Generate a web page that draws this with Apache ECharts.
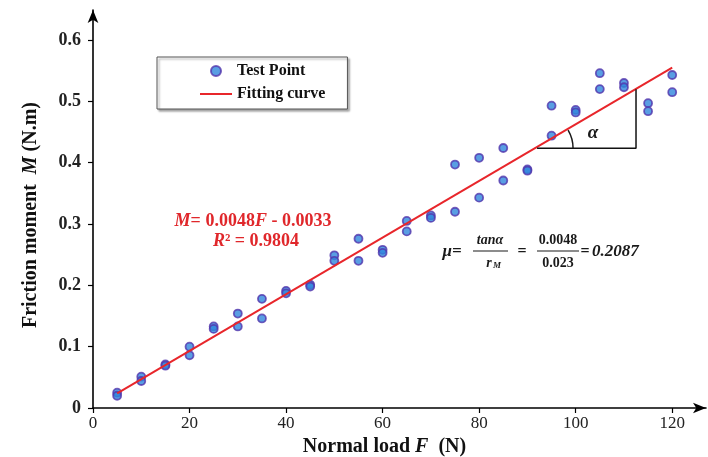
<!DOCTYPE html>
<html><head><meta charset="utf-8">
<script src="https://cdn.jsdelivr.net/npm/echarts@6/dist/echarts.min.js"></script>
<style>html,body{margin:0;padding:0;background:#fff}#c{width:708px;height:457px}</style>
</head><body><div id="c"></div>
<script>
// ---- data ----
const loads = [5,10,15,20,25,30,35,40,45,50,55,60,65,70,75,80,85,90,95,100,105,110,115,120];
const momentHigh = [0.025,0.051,0.071,0.100,0.133,0.154,0.178,0.191,0.201,0.249,0.276,0.258,0.305,0.314,0.397,0.408,0.424,0.389,0.493,0.486,0.546,0.530,0.497,0.543];
const momentLow  = [0.020,0.044,0.069,0.086,0.129,0.133,0.146,0.187,0.198,0.240,0.240,0.253,0.288,0.310,0.320,0.343,0.371,0.387,0.444,0.482,0.520,0.523,0.484,0.515];
const fitLoad = [5,120];
const fitMoment = [0.024,0.555];
const triLoad = [92,112.5,112.5];
const triMoment = [0.4234,0.4234,0.5196];
const xTicks = [0,20,40,60,80,100,120];
const yTicks = [0,0.1,0.2,0.3,0.4,0.5,0.6];

const FONT = '"Liberation Serif", "Times New Roman", serif';
const points = [];
loads.forEach((f,i)=>{ points.push([f,momentHigh[i]]); points.push([f,momentLow[i]]); });
const fitData = fitLoad.map((f,i)=>[f,fitMoment[i]]);
const triData = triLoad.map((f,i)=>[f,triMoment[i]]);

const chart = echarts.init(document.getElementById('c'), null, {renderer:'canvas'});
const axisLine = {show:true, symbol:['none','arrow'], symbolSize:[8,13], lineStyle:{color:'#000', width:1.6}};
const nameRich = {
  b:{fontFamily:FONT, fontWeight:'bold', fontSize:20, color:'#111'},
  i:{fontFamily:FONT, fontWeight:'bold', fontStyle:'italic', fontSize:20, color:'#111'}};
chart.setOption({
  animation:false,
  backgroundColor:'#fff',
  grid:{left:93, right:2, top:10, bottom:49, containLabel:false, outerBoundsMode:'none'},
  xAxis:{
    type:'value', min:0, max:127,
    axisLine: axisLine,
    axisTick:{show:true, inside:false, length:5, lineStyle:{color:'#000', width:1.2}, customValues:xTicks},
    axisLabel:{customValues:xTicks, margin:7, fontFamily:FONT, fontSize:17, color:'#222'},
    splitLine:{show:false},
    name:'{b|Normal load }{i|F}{b|  (N)}', nameLocation:'middle', nameGap:24,
    nameTextStyle:{padding:[0,30,0,0], rich:nameRich}
  },
  yAxis:{
    type:'value', min:0, max:0.649,
    axisLine: axisLine,
    axisTick:{show:true, inside:false, length:5, lineStyle:{color:'#000', width:1.2}, customValues:yTicks},
    axisLabel:{customValues:yTicks, margin:12, fontFamily:FONT, fontWeight:'bold', fontSize:18, color:'#222'},
    splitLine:{show:false},
    name:'{b|Friction moment  }{i|M}{b| (N.m)}', nameLocation:'middle', nameGap:52,
    nameTextStyle:{padding:[0,12,0,0], rich:nameRich}
  },
  legend:{
    orient:'vertical', left:157, top:57,
    padding:[6,22,7,43], itemGap:7, itemWidth:32, itemHeight:10,
    backgroundColor:'#fff', borderColor:'#555', borderWidth:1,
    shadowColor:'rgba(0,0,0,0.35)', shadowBlur:2, shadowOffsetX:2, shadowOffsetY:2,
    textStyle:{fontFamily:FONT, fontWeight:'bold', fontSize:16, color:'#111'},
    data:[{name:'Test Point', icon:'circle'},
          {name:'Fitting curve', icon:'path://M0,0 H32 V2 H0 Z', itemStyle:{color:'#e8262b'}}]
  },
  series:[
    {name:'Test Point', type:'scatter', data:points, symbol:'circle', symbolSize:8,
     itemStyle:{color:'#2f86dc', borderColor:'#5236ac', borderWidth:1.8}, z:2},
    {name:'Fitting curve', type:'line', data:fitData, symbol:'none',
     lineStyle:{color:'#e8262b', width:2}, itemStyle:{color:'#e8262b'}, z:3},
    {name:'triangle', type:'line', data:triData, symbol:'none',
     lineStyle:{color:'#111', width:1.5}, z:3}
  ]
});

// annotations
const v0 = chart.convertToPixel({gridIndex:0}, [triLoad[0], triMoment[0]]);
const p1 = chart.convertToPixel({gridIndex:0}, fitData[0]);
const p2 = chart.convertToPixel({gridIndex:0}, fitData[1]);
const ang = Math.atan2(p1[1]-p2[1], p2[0]-p1[0]);
const red = '#e0272b';
const dark = '#1a1a1a';
chart.setOption({graphic:[
  {type:'text', x:253, y:221, z:10, style:{
    text:'{i|M}{b|= 0.0048}{i|F}{b| - 0.0033}', align:'center', verticalAlign:'middle',
    rich:{b:{fontFamily:FONT, fontWeight:'bold', fontSize:18, fill:red},
          i:{fontFamily:FONT, fontWeight:'bold', fontStyle:'italic', fontSize:18, fill:red}}}},
  {type:'text', x:256, y:241, z:10, style:{
    text:'{i|R}{b|² = 0.9804}', align:'center', verticalAlign:'middle',
    rich:{b:{fontFamily:FONT, fontWeight:'bold', fontSize:18, fill:red},
          i:{fontFamily:FONT, fontWeight:'bold', fontStyle:'italic', fontSize:18, fill:red}}}},
  // mu formula
  {type:'text', x:452, y:252, z:10, style:{text:'μ=', font:'italic bold 17px '+FONT, fill:dark, align:'center', verticalAlign:'middle'}},
  {type:'text', x:490, y:240, z:10, style:{text:'tanα', font:'italic bold 14px '+FONT, fill:dark, align:'center', verticalAlign:'middle'}},
  {type:'line', z:10, shape:{x1:473, y1:251, x2:508, y2:251}, style:{stroke:dark, lineWidth:1.2}},
  {type:'text', x:489, y:263, z:10, style:{text:'r', font:'italic bold 14px '+FONT, fill:dark, align:'center', verticalAlign:'middle'}},
  {type:'text', x:497, y:266, z:10, style:{text:'M', font:'italic bold 9px '+FONT, fill:dark, align:'center', verticalAlign:'middle'}},
  {type:'text', x:522, y:252, z:10, style:{text:'=', font:'bold 16px '+FONT, fill:dark, align:'center', verticalAlign:'middle'}},
  {type:'text', x:558, y:240, z:10, style:{text:'0.0048', font:'bold 14px '+FONT, fill:dark, align:'center', verticalAlign:'middle'}},
  {type:'line', z:10, shape:{x1:537, y1:251, x2:579, y2:251}, style:{stroke:dark, lineWidth:1.2}},
  {type:'text', x:558, y:263, z:10, style:{text:'0.023', font:'bold 14px '+FONT, fill:dark, align:'center', verticalAlign:'middle'}},
  {type:'text', x:585, y:252, z:10, style:{text:'=', font:'bold 16px '+FONT, fill:dark, align:'center', verticalAlign:'middle'}},
  {type:'text', x:592, y:252, z:10, style:{text:'0.2087', font:'italic bold 17px '+FONT, fill:dark, align:'left', verticalAlign:'middle'}},
  // angle arc and label
  {type:'arc', z:10, shape:{cx:v0[0], cy:v0[1], r:36, startAngle:-ang, endAngle:0, clockwise:true},
   style:{stroke:dark, fill:null, lineWidth:1.5}},
  {type:'text', x:v0[0]+56, y:v0[1]-15, z:10, style:{text:'α', font:'italic bold 19px '+FONT, fill:dark, align:'center', verticalAlign:'middle'}}
]});
</script>
</body></html>
